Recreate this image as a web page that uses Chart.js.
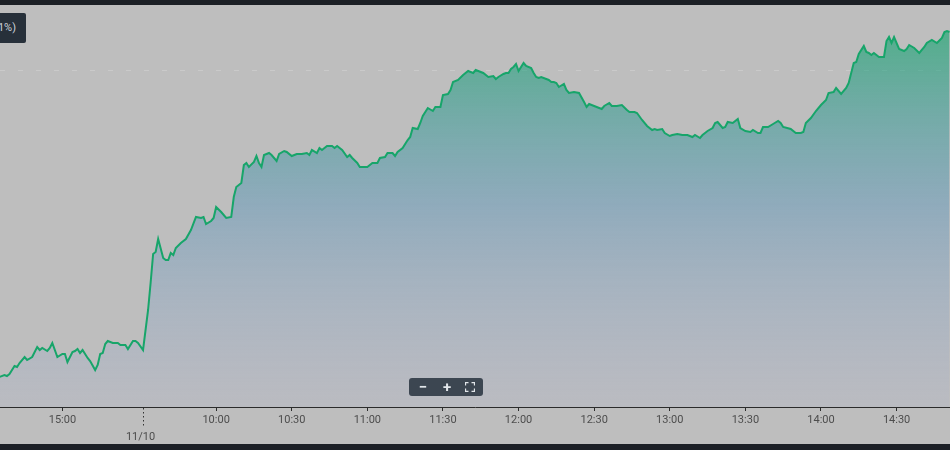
<!DOCTYPE html>
<html>
<head>
<meta charset="utf-8">
<script src="https://cdn.jsdelivr.net/npm/chart.js@4/dist/chart.umd.min.js"></script>
<style>
html,body{margin:0;padding:0;width:950px;height:450px;overflow:hidden;background:#1c2026;font-family:Roboto,"Open Sans",sans-serif;}
#wrap{position:absolute;left:0;top:5px;width:950px;height:439px;background:#bebebe;overflow:hidden;}
#c{position:absolute;left:0;top:0;}
#info{position:absolute;left:-110px;top:8px;width:136px;height:30px;background:#27303a;color:#cdd4db;font-size:11px;line-height:30px;text-align:right;padding-right:10px;box-sizing:border-box;border-radius:2px;white-space:nowrap;}
#zoom{position:absolute;left:409px;top:373px;width:74px;height:18px;background:#3c4651;border-radius:3px;color:#e2e6ea;font-size:15px;font-weight:bold;line-height:18px;}
#zoom span{position:absolute;top:0;text-align:center;width:16px;}
#zoom svg{position:absolute;top:4px;left:56px;}
</style>
</head>
<body>
<div id="wrap">
  <canvas id="c" width="950" height="439"></canvas>
  <div id="info">3275.00 (+1.91%)</div>
  <div id="zoom"><span style="left:6px">−</span><span style="left:30px">+</span>
    <svg width="10" height="10" viewBox="0 0 10 10"><path d="M0.5 3.5V0.5H3.5M6.5 0.5H9.5V3.5M9.5 6.5V9.5H6.5M3.5 9.5H0.5V6.5" fill="none" stroke="#e2e6ea" stroke-width="1.3"/></svg>
  </div>
</div>
<script>
// ---- data ----
const prevTimes = ['14:35','14:37','14:38','14:39','14:41','14:42','14:43','14:45','14:46','14:48',
  '14:50','14:51','14:52','14:54','14:55','14:56','14:58','15:00','15:01','15:02',
  '15:04','15:05','15:06','15:07','15:08','15:10','15:11','15:13','15:14','15:15',
  '15:16','15:17','15:18','15:20','15:22','15:23','15:25','15:26','15:28','15:29',
  '15:30'];
const prevValues = [3206.0,3206.4,3206.2,3206.6,3208.2,3208.0,3208.8,3210.0,3209.4,3210.0,
  3212.0,3211.4,3211.8,3211.2,3211.8,3212.8,3210.0,3210.6,3210.6,3209.0,
  3211.0,3211.2,3211.6,3210.8,3211.4,3209.8,3209.2,3207.4,3208.4,3210.6,
  3210.8,3212.6,3213.2,3212.8,3212.8,3212.4,3212.4,3211.6,3213.2,3213.2,
  3212.8];

const dayTimes = [
  '09:31','09:33','09:34','09:35','09:36','09:37','09:39','09:40','09:41','09:42',
  '09:43','09:44','09:46','09:48','09:50','09:52','09:54','09:55','09:56','09:58',
  '09:59','10:00','10:02','10:04','10:06','10:07','10:08','10:10','10:11','10:12',
  '10:13','10:15','10:16','10:17','10:18','10:19','10:21','10:22','10:24','10:25',
  '10:27','10:28','10:30','10:32','10:34','10:36','10:37','10:38','10:40','10:41',
  '10:42','10:44','10:46','10:47','10:48','10:50','10:52','10:53','10:54','10:56',
  '10:57','10:59','11:00','11:02','11:04','11:05','11:07','11:08','11:10','11:11',
  '11:12','11:14','11:16','11:17','11:18','11:20','11:21','11:22','11:24','11:26',
  '11:27','11:29','11:30','11:32','11:33','11:34','11:36','11:38','11:40','11:41',
  '11:42','11:43','11:46','11:48','11:50','11:51','11:52','11:54','11:55','11:56',
  '11:57','11:58','11:59','12:00','12:02','12:03','12:05','12:06','12:07','12:08',
  '12:09','12:11','12:12','12:13','12:14','12:15','12:16','12:18','12:19','12:20',
  '12:22','12:24','12:26','12:27','12:28','12:30','12:31','12:33','12:34','12:36',
  '12:37','12:39','12:41','12:43','12:44','12:46','12:47','12:49','12:51','12:53',
  '12:54','12:55','12:57','12:58','13:00','13:01','13:03','13:05','13:07','13:09',
  '13:10','13:12','13:13','13:15','13:17','13:18','13:19','13:21','13:22','13:23',
  '13:25','13:27','13:28','13:30','13:32','13:33','13:35','13:36','13:37','13:39',
  '13:41','13:43','13:44','13:45','13:48','13:50','13:52','13:53','13:54','13:56',
  '13:58','14:00','14:02','14:03','14:05','14:06','14:08','14:10','14:11','14:13',
  '14:14','14:15','14:17','14:18','14:19','14:20','14:21','14:23','14:25','14:26',
  '14:27','14:28','14:29','14:31','14:33','14:34','14:35','14:37','14:39','14:41',
  '14:42','14:44','14:46','14:48','14:49','14:50','14:51'];
const dayValues = [
  3211.4,3219.4,3224.8,3230.6,3231.0,3233.6,3229.8,3229.4,3229.4,3230.8,
  3230.4,3231.8,3232.8,3233.6,3235.4,3238.0,3237.8,3238.0,3236.6,3237.2,
  3237.8,3240.0,3239.0,3237.8,3238.0,3242.0,3244.0,3244.8,3248.4,3248.8,
  3248.0,3249.0,3250.2,3248.8,3248.0,3250.4,3250.8,3250.4,3249.2,3250.6,
  3251.2,3251.0,3250.2,3250.6,3250.6,3250.8,3250.4,3251.4,3250.8,3251.8,
  3251.4,3252.2,3252.2,3251.8,3252.2,3251.4,3250.0,3250.4,3249.8,3248.8,
  3248.0,3248.0,3248.0,3248.8,3248.8,3249.8,3250.0,3250.8,3250.8,3250.2,
  3251.0,3251.8,3253.4,3254.0,3255.8,3255.6,3256.8,3258.2,3259.8,3259.2,
  3260.0,3260.0,3262.4,3262.6,3263.4,3265.0,3265.4,3266.4,3267.2,3267.0,
  3266.8,3267.4,3266.8,3266.0,3266.2,3265.6,3266.0,3266.6,3266.8,3266.8,
  3267.6,3268.0,3268.6,3267.2,3268.8,3268.2,3267.8,3266.8,3266.0,3265.8,
  3266.0,3265.6,3265.4,3265.0,3265.0,3264.8,3264.0,3264.6,3263.4,3262.8,
  3263.0,3262.8,3261.0,3260.0,3260.6,3260.2,3260.0,3259.6,3260.2,3260.8,
  3260.2,3260.2,3260.4,3259.4,3259.0,3259.0,3258.8,3257.4,3256.2,3255.4,
  3255.6,3255.4,3255.6,3254.8,3254.2,3254.4,3254.6,3254.4,3254.4,3254.0,
  3254.4,3253.8,3254.4,3255.2,3255.8,3256.8,3257.0,3255.8,3256.0,3257.0,
  3256.8,3257.6,3255.8,3255.2,3255.0,3255.4,3254.8,3254.8,3256.0,3256.0,
  3256.6,3257.2,3256.8,3256.0,3255.6,3254.8,3254.8,3255.0,3256.8,3257.8,
  3259.2,3260.4,3261.4,3262.8,3263.0,3263.8,3262.6,3263.8,3264.8,3268.8,
  3269.0,3270.6,3272.2,3271.0,3270.8,3270.4,3270.8,3270.0,3270.0,3273.2,
  3274.0,3272.8,3274.0,3271.6,3271.2,3271.6,3272.4,3271.8,3270.8,3272.0,
  3272.8,3273.4,3272.8,3273.8,3275.0,3275.2,3275.0];

const tickDays   = ['11/09','11/09','11/10','11/10','11/10','11/10','11/10','11/10','11/10','11/10','11/10','11/10','11/10'];
const tickTimes  = ['14:30','15:00','09:30','10:00','10:30','11:00','11:30','12:00','12:30','13:00','13:30','14:00','14:30'];
const tickLabels = ['14:30','15:00','11/10','10:00','10:30','11:00','11:30','12:00','12:30','13:00','13:30','14:00','14:30'];
const refLevel = 3267.4;

// ---- session position: previous day counted back from its 15:30 close, new day from its 09:30 open ----
function toPos(day, hhmm) {
  const p = hhmm.split(':').map(Number);
  const mins = p[0] * 60 + p[1];
  return day === '11/09' ? mins - 930 : mins - 570 + 1;
}
const points = prevTimes.map((t, i) => ({x: toPos('11/09', t), y: prevValues[i]}))
  .concat(dayTimes.map((t, i) => ({x: toPos('11/10', t), y: dayValues[i]})));
const tickPos = tickTimes.map((t, i) => toPos(tickDays[i], t));
const sepIndex = tickDays.findIndex((d, i) => d === '11/10' && tickTimes[i] === '09:30');
const sepPos = tickPos[sepIndex];

const refPlugin = {
  id: 'refLine',
  beforeDatasetsDraw(chart) {
    const a = chart.chartArea, c = chart.ctx;
    const y = Math.round(chart.scales.y.getPixelForValue(refLevel)) + 0.5;
    c.save();
    c.strokeStyle = 'rgba(225,225,225,0.35)';
    c.lineWidth = 1;
    c.setLineDash([5, 13]);
    c.beginPath(); c.moveTo(a.left, y); c.lineTo(a.right, y); c.stroke();
    c.restore();
  }
};
const sepPlugin = {
  id: 'daySep',
  afterDraw(chart) {
    const a = chart.chartArea, c = chart.ctx;
    const x = Math.round(chart.scales.x.getPixelForValue(sepPos)) + 2.5;
    c.save();
    c.strokeStyle = '#333';
    c.lineWidth = 1;
    c.setLineDash([1.5, 2.5]);
    c.beginPath(); c.moveTo(x, a.bottom + 1); c.lineTo(x, a.bottom + 19); c.stroke();
    c.restore();
  }
};

new Chart(document.getElementById('c'), {
  type: 'line',
  data: {
    datasets: [{
      data: points,
      borderColor: '#17a56a',
      borderWidth: 2,
      pointRadius: 0,
      tension: 0,
      fill: 'start',
      backgroundColor: (ctx) => {
        const a = ctx.chart.chartArea;
        if (!a) return 'rgba(0,0,0,0)';
        const g = ctx.chart.ctx.createLinearGradient(0, a.top, 0, a.bottom);
        g.addColorStop(0, 'rgba(25,170,105,0.72)');
        g.addColorStop(0.5, 'rgba(80,145,185,0.42)');
        g.addColorStop(1, 'rgba(160,170,215,0.12)');
        return g;
      }
    }]
  },
  options: {
    responsive: false,
    animation: false,
    devicePixelRatio: 1,
    layout: {padding: 0},
    plugins: {legend: {display: false}, tooltip: {enabled: false}},
    scales: {
      x: {
        type: 'linear',
        min: -54.76,
        max: 322.2,
        afterBuildTicks: (s) => { s.ticks = tickPos.map(v => ({value: v})); },
        afterFit: (s) => { s.height = 37; s.paddingLeft = 0; s.paddingRight = 0; },
        ticks: {
          autoSkip: false,
          maxRotation: 0,
          padding: 1,
          color: '#4d4d4d',
          font: {family: 'Roboto', size: 11, lineHeight: 1.5},
          callback: (v, i) => i === sepIndex ? ['', tickLabels[i]] : tickLabels[i]
        },
        grid: {
          drawOnChartArea: false,
          drawTicks: true,
          tickLength: 4,
          color: (c) => (c.tick && c.tick.value === sepPos) ? 'rgba(0,0,0,0)' : '#2b2b2b'
        },
        border: {display: true, color: '#2b2b2b', width: 1}
      },
      y: {display: false, min: 3200, max: 3280.4}
    }
  },
  plugins: [refPlugin, sepPlugin]
});
</script>
</body>
</html>
